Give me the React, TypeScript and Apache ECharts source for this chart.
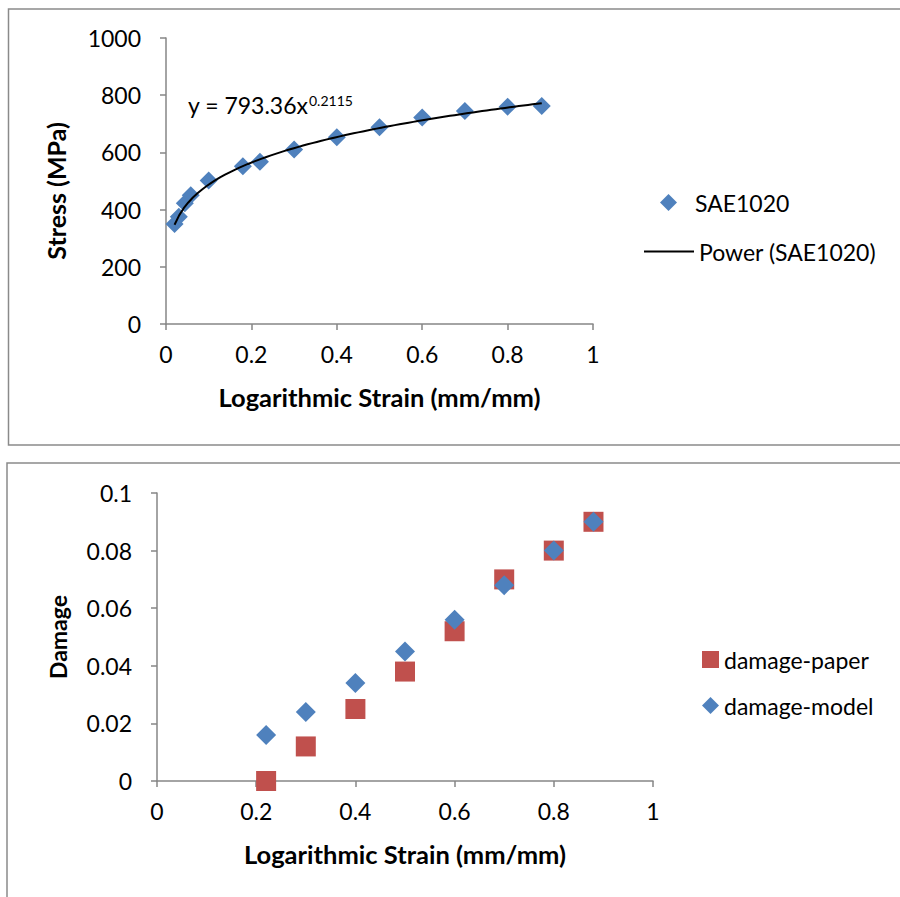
import React, { useEffect, useRef } from "react";
import * as echarts from "echarts";

// Flow curve of SAE1020 steel
const strain = [0.02, 0.03, 0.044, 0.058, 0.1, 0.18, 0.22, 0.3, 0.4, 0.5, 0.6, 0.7, 0.8, 0.88];
const stress = [350, 375, 422, 450, 502, 552, 567, 610, 653, 688, 722, 745, 760, 762];

// Power trend line y = K * x^n
const powerCoef = 793.36;
const powerExp = 0.2115;

// Damage versus strain
const damageStrain = [0.22, 0.3, 0.4, 0.5, 0.6, 0.7, 0.8, 0.88];
const damagePaper = [0, 0.012, 0.025, 0.038, 0.052, 0.07, 0.08, 0.09];
const damageModel = [0.016, 0.024, 0.034, 0.045, 0.056, 0.068, 0.08, 0.09];

const FONT = "Lato, 'Open Sans', sans-serif";
const AXIS_GRAY = "#868686";
const BLUE = "#4F81BD";
const RED = "#C0504D";

function trendPoints(): number[][] {
  const x0 = Math.min(...strain);
  const x1 = Math.max(...strain);
  const steps = 80;
  const pts: number[][] = [];
  for (let i = 0; i <= steps; i++) {
    const x = x0 + ((x1 - x0) * i) / steps;
    pts.push([x, powerCoef * Math.pow(x, powerExp)]);
  }
  return pts;
}

function valueAxis(
  gridIndex: number,
  min: number,
  max: number,
  interval: number,
  name: string,
  nameGap: number,
  labelMargin: number,
  nameSize: number,
  namePadding: number[] = [0, 0, 0, 0]
) {
  return {
    type: "value",
    gridIndex,
    min,
    max,
    interval,
    name,
    nameLocation: "middle",
    nameGap,
    nameTextStyle: {
      fontFamily: FONT,
      fontSize: nameSize,
      fontWeight: "bold",
      color: "#000",
      padding: namePadding,
    },
    axisLine: { show: true, onZero: false, lineStyle: { color: AXIS_GRAY, width: 1.5 } },
    axisTick: { show: true, inside: false, length: 6, lineStyle: { color: AXIS_GRAY, width: 1.5 } },
    axisLabel: {
      fontFamily: FONT,
      fontSize: 23,
      color: "#000",
      margin: labelMargin,
      formatter: (v: number) => String(v),
    },
    splitLine: { show: false },
  };
}

const legendText = { fontFamily: FONT, fontSize: 23, color: "#000" };

export default function App() {
  const ref = useRef<HTMLDivElement>(null);

  useEffect(() => {
    if (!ref.current) return;
    const chart = echarts.init(ref.current, undefined, { renderer: "svg" });

    const option: any = {
      animation: false,
      backgroundColor: "#fff",
      grid: [
        { left: 166, top: 38, width: 427, height: 286 },
        { left: 157, top: 493, width: 496, height: 288 },
      ],
      xAxis: [
        valueAxis(0, 0, 1, 0.2, "Logarithmic Strain (mm/mm)", 60, 18, 25.5),
        valueAxis(1, 0, 1, 0.2, "Logarithmic Strain (mm/mm)", 60, 18, 25.5),
      ],
      yAxis: [
        valueAxis(0, 0, 1000, 200, "Stress (MPa)", 98, 25, 25, [0, 20, 0, 0]),
        valueAxis(1, 0, 0.1, 0.02, "Damage", 88, 25, 23),
      ],
      legend: [
        {
          orient: "vertical",
          left: 655,
          top: 186,
          itemWidth: 17,
          itemHeight: 17,
          textStyle: { ...legendText, padding: [0, 0, 0, 13] },
          data: [{ name: "SAE1020", icon: "diamond" }],
        },
        {
          orient: "vertical",
          left: 639,
          top: 235,
          itemWidth: 50,
          itemHeight: 2,
          textStyle: legendText,
          data: [{ name: "Power (SAE1020)", icon: "rect", itemStyle: { color: "#000" } }],
        },
        {
          orient: "vertical",
          left: 697,
          top: 643,
          itemWidth: 17,
          itemHeight: 17,
          itemGap: 23,
          textStyle: legendText,
          data: [
            { name: "damage-paper", icon: "rect" },
            { name: "damage-model", icon: "diamond" },
          ],
        },
      ],
      series: [
        {
          name: "SAE1020",
          type: "scatter",
          xAxisIndex: 0,
          yAxisIndex: 0,
          symbol: "diamond",
          symbolSize: 18,
          itemStyle: { color: BLUE, opacity: 1 },
          data: strain.map((x, i) => [x, stress[i]]),
          z: 2,
        },
        {
          name: "Power (SAE1020)",
          type: "line",
          xAxisIndex: 0,
          yAxisIndex: 0,
          symbol: "none",
          showSymbol: false,
          lineStyle: { color: "#000", width: 2 },
          itemStyle: { color: "#000" },
          data: trendPoints(),
          z: 3,
        },
        {
          name: "damage-paper",
          type: "scatter",
          xAxisIndex: 1,
          yAxisIndex: 1,
          symbol: "rect",
          symbolSize: 20,
          itemStyle: { color: RED, opacity: 1 },
          data: damageStrain.map((x, i) => [x, damagePaper[i]]),
        },
        {
          name: "damage-model",
          type: "scatter",
          xAxisIndex: 1,
          yAxisIndex: 1,
          symbol: "diamond",
          symbolSize: 20,
          itemStyle: { color: BLUE, opacity: 1 },
          data: damageStrain.map((x, i) => [x, damageModel[i]]),
        },
      ],
      graphic: [
        {
          type: "rect",
          shape: { x: 8.5, y: 9, width: 900, height: 436 },
          style: { fill: "none", stroke: "#8a8a8a", lineWidth: 1.5 },
          silent: true,
        },
        {
          type: "rect",
          shape: { x: 7, y: 463, width: 900, height: 440 },
          style: { fill: "none", stroke: "#8a8a8a", lineWidth: 1.5 },
          silent: true,
        },
        {
          type: "text",
          x: 188,
          y: 105,
          style: {
            text: `y = ${powerCoef.toFixed(2)}x`,
            fontFamily: FONT,
            fontSize: 23,
            fill: "#000",
            textAlign: "left",
            textVerticalAlign: "middle",
          },
        },
        {
          type: "text",
          x: 309,
          y: 100,
          style: {
            text: `${powerExp}`,
            fontFamily: FONT,
            fontSize: 14,
            fill: "#000",
            textAlign: "left",
            textVerticalAlign: "middle",
          },
        },
      ],
    };

    chart.setOption(option);
    return () => chart.dispose();
  }, []);

  return (
    <div
      ref={ref}
      style={{ position: "absolute", left: 0, top: 0, width: 900, height: 897 }}
    />
  );
}
